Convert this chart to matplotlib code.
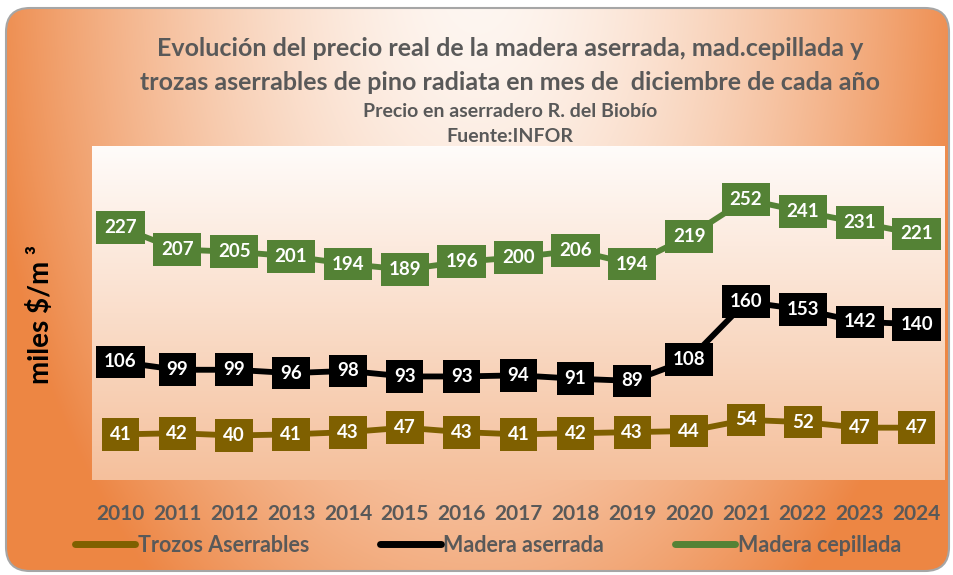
import matplotlib.pyplot as plt
import numpy as np
from matplotlib.patches import FancyBboxPatch

# datos
years = ['2010', '2011', '2012', '2013', '2014', '2015', '2016', '2017',
         '2018', '2019', '2020', '2021', '2022', '2023', '2024']
trozos = [41, 42, 40, 41, 43, 47, 43, 41, 42, 43, 44, 54, 52, 47, 47]
aserrada = [106, 99, 99, 96, 98, 93, 93, 94, 91, 89, 108, 160, 153, 142, 140]
cepillada = [227, 207, 205, 201, 194, 189, 196, 200, 206, 194, 219, 252, 241, 231, 221]

series = [
    ('Trozos Aserrables', trozos, '#7F6000'),
    ('Madera aserrada', aserrada, '#000000'),
    ('Madera cepillada', cepillada, '#548235'),
]

plt.rcParams['font.family'] = ['Lato', 'DejaVu Sans']
txt_gray = '#595959'

W, H = 954, 575
fig = plt.figure(figsize=(W / 100, H / 100), dpi=100)

# fondo naranja con degradado
bg = fig.add_axes([0, 0, 1, 1])
bg.set_xlim(0, W)
bg.set_ylim(H, 0)
bg.axis('off')
yy, xx = np.mgrid[0:H, 0:W]
d = np.sqrt(((xx - 477) / 500.0) ** 2 + ((yy + 30) / 800.0) ** 2)
t = np.clip(d, 0, 1) ** 1.6
light = np.array([254, 247, 242]) / 255.0
orange = np.array([237, 134, 68]) / 255.0
img = light[None, None, :] + (orange - light)[None, None, :] * t[:, :, None]
frame = FancyBboxPatch((6, 8), 943, 563, boxstyle='round,pad=0,rounding_size=24',
                       facecolor='none', edgecolor='#A6A6A6', linewidth=1.5, zorder=3)
bg.add_patch(frame)
im = bg.imshow(img, extent=(0, W, H, 0), aspect='auto', zorder=1)
im.set_clip_path(frame)

# area de trazado
ax = fig.add_axes([92 / W, 1 - 480 / H, 853 / W, 334 / H])
ax.set_xlim(-0.5, len(years) - 0.5)
ax.set_ylim(0, 300)
grad = np.linspace(0, 1, 256)[:, None]
c_top = np.array([255, 252, 250]) / 255.0
c_bot = np.array([245, 192, 156]) / 255.0
pa = c_top[None, None, :] + (c_bot - c_top)[None, None, :] * grad[:, :, None]
ax.imshow(pa, extent=(-0.5, len(years) - 0.5, 0, 300), aspect='auto', zorder=0)

x = np.arange(len(years))
for name, vals, col in series:
    ax.plot(x, vals, color=col, linewidth=4.2, label=name, zorder=2,
            solid_capstyle='round')
    for xi, v in zip(x, vals):
        ax.text(xi, v, str(v), ha='center', va='center', color='white',
                fontsize=13.5, fontweight='bold', zorder=4,
                bbox=dict(boxstyle='square,pad=0.42', facecolor=col,
                          edgecolor='none'))

ax.set_xticks(x)
ax.set_xticklabels(years, fontsize=15, fontweight='bold', color=txt_gray)
ax.tick_params(axis='x', length=0, pad=17)
ax.set_yticks([])
for s in ax.spines.values():
    s.set_visible(False)

# titulos
fig.text(510 / W, 1 - 48 / H,
         'Evolución del precio real de la madera aserrada, mad.cepillada y',
         ha='center', va='center', fontsize=18, fontweight='bold', color=txt_gray)
fig.text(510 / W, 1 - 82 / H,
         'trozas aserrables de pino radiata en mes de  diciembre de cada año',
         ha='center', va='center', fontsize=18, fontweight='bold', color=txt_gray)
fig.text(510 / W, 1 - 112 / H, 'Precio en aserradero R. del Biobío',
         ha='center', va='center', fontsize=14, fontweight='bold', color=txt_gray)
fig.text(510 / W, 1 - 136 / H, 'Fuente:INFOR',
         ha='center', va='center', fontsize=14, fontweight='bold', color=txt_gray)

fig.text(40 / W, 1 - 315 / H, 'miles \\$/m ³', rotation=90, ha='center',
         va='center', fontsize=20, fontweight='bold', color='black')

leg = fig.legend(loc='center left', bbox_to_anchor=(75 / W, 1 - 545 / H), ncol=3,
                 frameon=False, fontsize=15.5, handlelength=2.8, handletextpad=0.12,
                 columnspacing=3.3, borderaxespad=0, borderpad=0)
for txt in leg.get_texts():
    txt.set_color(txt_gray)
    txt.set_fontweight('bold')
for ln in leg.get_lines():
    ln.set_linewidth(5)

fig.savefig('out.png', dpi=100)
